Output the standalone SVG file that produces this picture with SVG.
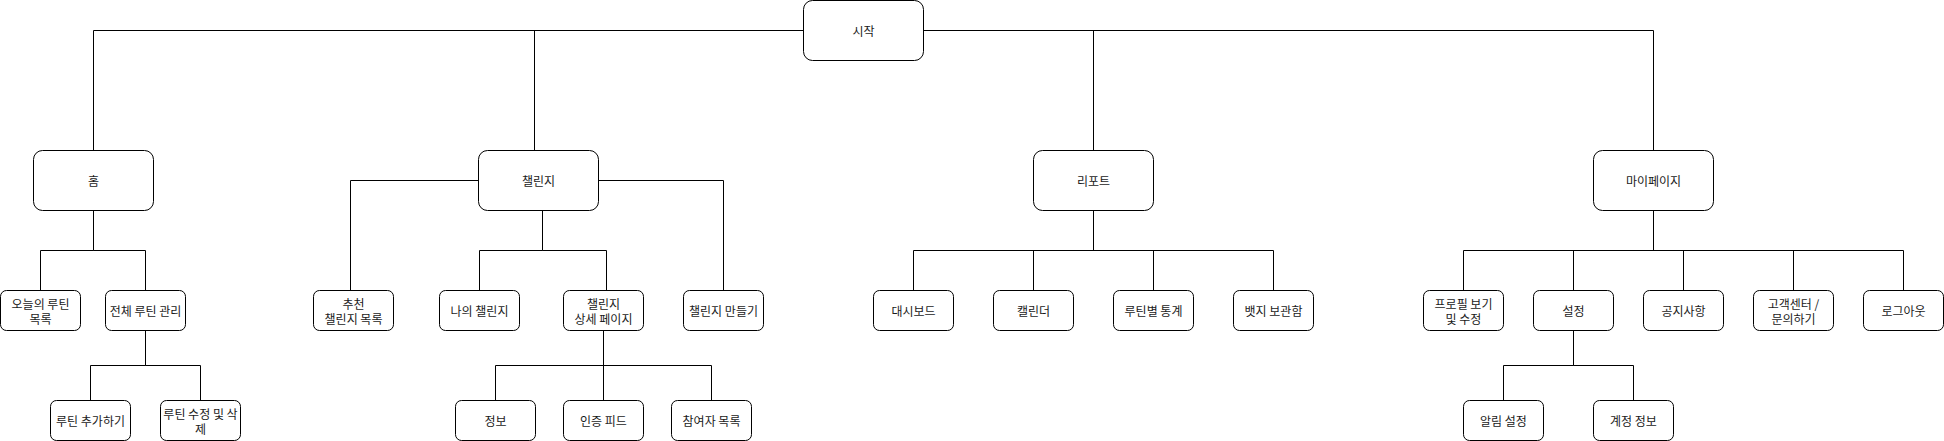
<svg xmlns="http://www.w3.org/2000/svg" width="1944" height="441" viewBox="0 0 1944 441">
<style>
.bg{fill:#ffffff}
.n rect{fill:#ffffff;stroke:#000000;stroke-width:1}
.n text{font-family:"Noto Sans CJK KR","Noto Sans",sans-serif;font-size:12px;fill:#1a1a1a;text-anchor:middle;dominant-baseline:central}
#edges path{fill:none;stroke:#000000;stroke-width:1}
</style>
<rect class="bg" x="0" y="0" width="1944" height="441"/>
<g id="edges">
<path d="M803 30.5H93.5V150"/>
<path d="M803 30.5H534.5V150"/>
<path d="M923 30.5H1093.5V150"/>
<path d="M923 30.5H1653.5V150"/>
<path d="M93.5 210V250.5H40.5V290"/>
<path d="M93.5 210V250.5H145.5V290"/>
<path d="M145.5 330V365.5H90.5V400"/>
<path d="M145.5 330V365.5H200.5V400"/>
<path d="M478 180.5H350.5V290"/>
<path d="M598 180.5H723.5V290"/>
<path d="M542.5 210V250.5H479.5V290"/>
<path d="M542.5 210V250.5H606.5V290"/>
<path d="M603.5 330V365.5H495.5V400"/>
<path d="M603.5 330V400"/>
<path d="M603.5 330V365.5H711.5V400"/>
<path d="M1093.5 210V250.5H913.5V290"/>
<path d="M1093.5 210V250.5H1033.5V290"/>
<path d="M1093.5 210V250.5H1153.5V290"/>
<path d="M1093.5 210V250.5H1273.5V290"/>
<path d="M1653.5 210V250.5H1463.5V290"/>
<path d="M1653.5 210V250.5H1573.5V290"/>
<path d="M1653.5 210V250.5H1683.5V290"/>
<path d="M1653.5 210V250.5H1793.5V290"/>
<path d="M1653.5 210V250.5H1903.5V290"/>
<path d="M1573.5 330V365.5H1503.5V400"/>
<path d="M1573.5 330V365.5H1633.5V400"/>
</g>
<g id="start" class="n"><rect x="803.5" y="0.5" width="120" height="60" rx="9"/><text x="863.5" y="30">시작</text></g>
<g id="home" class="n"><rect x="33.5" y="150.5" width="120" height="60" rx="9"/><text x="93.5" y="180">홈</text></g>
<g id="challenge" class="n"><rect x="478.5" y="150.5" width="120" height="60" rx="9"/><text x="538.5" y="180">챌린지</text></g>
<g id="report" class="n"><rect x="1033.5" y="150.5" width="120" height="60" rx="9"/><text x="1093.5" y="180">리포트</text></g>
<g id="mypage" class="n"><rect x="1593.5" y="150.5" width="120" height="60" rx="9"/><text x="1653.5" y="180">마이페이지</text></g>

<g id="today-routine" class="n"><rect x="0.5" y="290.5" width="80" height="40" rx="6"/><text x="40.5" y="303">오늘의 루틴</text><text x="40.5" y="318">목록</text></g>
<g id="routine-manage" class="n"><rect x="105.5" y="290.5" width="80" height="40" rx="6"/><text x="145.5" y="310">전체 루틴 관리</text></g>
<g id="routine-add" class="n"><rect x="50.5" y="400.5" width="80" height="40" rx="6"/><text x="90.5" y="420">루틴 추가하기</text></g>
<g id="routine-edit" class="n"><rect x="160.5" y="400.5" width="80" height="40" rx="6"/><text x="200.5" y="413">루틴 수정 및 삭</text><text x="200.5" y="428">제</text></g>

<g id="recommend" class="n"><rect x="313.5" y="290.5" width="80" height="40" rx="6"/><text x="353.5" y="303">추천</text><text x="353.5" y="318">챌린지 목록</text></g>
<g id="my-challenge" class="n"><rect x="439.5" y="290.5" width="80" height="40" rx="6"/><text x="479.5" y="310">나의 챌린지</text></g>
<g id="challenge-detail" class="n"><rect x="563.5" y="290.5" width="80" height="40" rx="6"/><text x="603.5" y="303">챌린지</text><text x="603.5" y="318">상세 페이지</text></g>
<g id="challenge-create" class="n"><rect x="683.5" y="290.5" width="80" height="40" rx="6"/><text x="723.5" y="310">챌린지 만들기</text></g>
<g id="info" class="n"><rect x="455.5" y="400.5" width="80" height="40" rx="6"/><text x="495.5" y="420">정보</text></g>
<g id="feed" class="n"><rect x="563.5" y="400.5" width="80" height="40" rx="6"/><text x="603.5" y="420">인증 피드</text></g>
<g id="participants" class="n"><rect x="671.5" y="400.5" width="80" height="40" rx="6"/><text x="711.5" y="420">참여자 목록</text></g>

<g id="dashboard" class="n"><rect x="873.5" y="290.5" width="80" height="40" rx="6"/><text x="913.5" y="310">대시보드</text></g>
<g id="calendar" class="n"><rect x="993.5" y="290.5" width="80" height="40" rx="6"/><text x="1033.5" y="310">캘린더</text></g>
<g id="stats" class="n"><rect x="1113.5" y="290.5" width="80" height="40" rx="6"/><text x="1153.5" y="310">루틴별 통계</text></g>
<g id="badges" class="n"><rect x="1233.5" y="290.5" width="80" height="40" rx="6"/><text x="1273.5" y="310">뱃지 보관함</text></g>

<g id="profile" class="n"><rect x="1423.5" y="290.5" width="80" height="40" rx="6"/><text x="1463.5" y="303">프로필 보기</text><text x="1463.5" y="318">및 수정</text></g>
<g id="settings" class="n"><rect x="1533.5" y="290.5" width="80" height="40" rx="6"/><text x="1573.5" y="310">설정</text></g>
<g id="notice" class="n"><rect x="1643.5" y="290.5" width="80" height="40" rx="6"/><text x="1683.5" y="310">공지사항</text></g>
<g id="support" class="n"><rect x="1753.5" y="290.5" width="80" height="40" rx="6"/><text x="1793.5" y="303">고객센터 /</text><text x="1793.5" y="318">문의하기</text></g>
<g id="logout" class="n"><rect x="1863.5" y="290.5" width="80" height="40" rx="6"/><text x="1903.5" y="310">로그아웃</text></g>
<g id="alarm" class="n"><rect x="1463.5" y="400.5" width="80" height="40" rx="6"/><text x="1503.5" y="420">알림 설정</text></g>
<g id="account" class="n"><rect x="1593.5" y="400.5" width="80" height="40" rx="6"/><text x="1633.5" y="420">계정 정보</text></g>
</svg>
